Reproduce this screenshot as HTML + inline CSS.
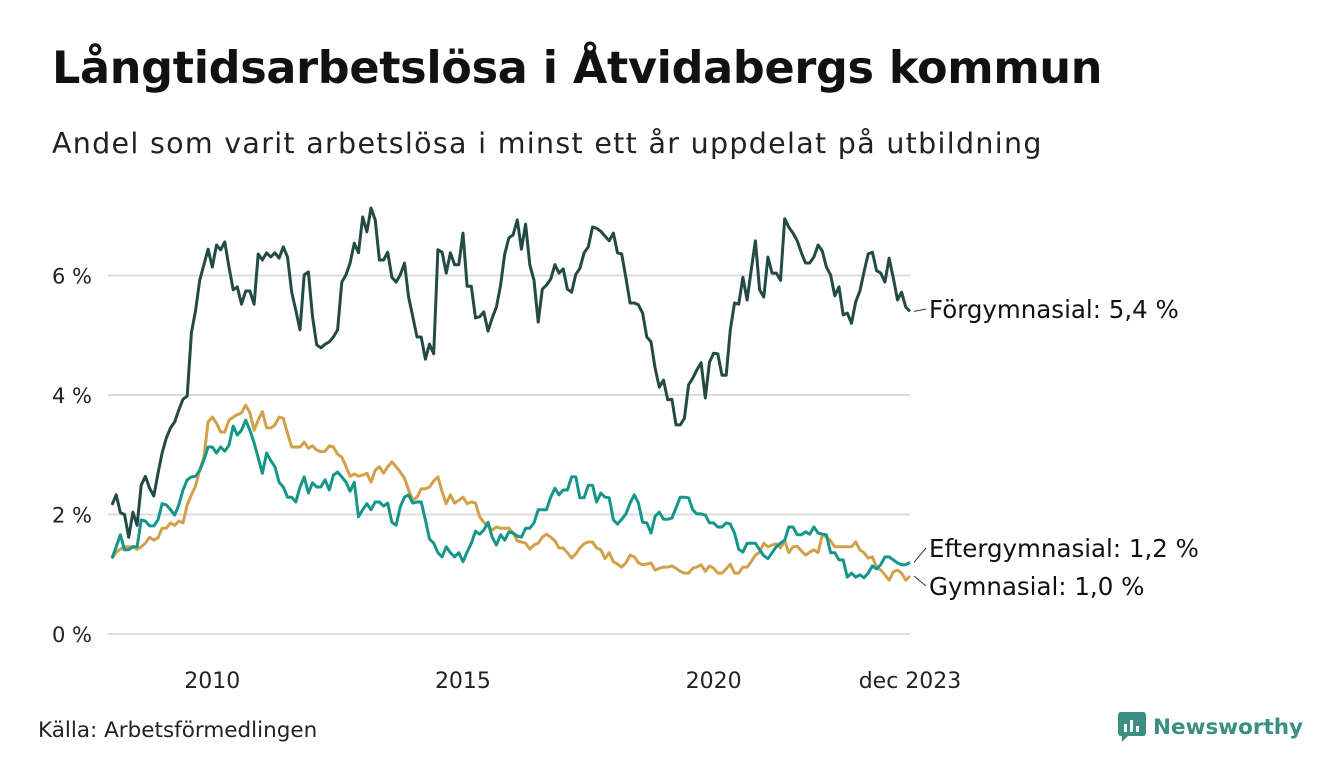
<!DOCTYPE html>
<html><head><meta charset="utf-8"><style>
body{margin:0;background:#fff;width:1340px;height:780px;overflow:hidden;font-family:"DejaVu Sans","Liberation Sans",sans-serif;color:#111}
#title{position:absolute;left:52px;top:43px;font-size:44.5px;font-weight:bold;margin:0;letter-spacing:-0.3px;white-space:nowrap}
#sub{position:absolute;left:52px;top:127px;font-size:28.5px;letter-spacing:1.3px;margin:0;color:#222;white-space:nowrap}
#src{position:absolute;left:38px;top:718px;font-size:21.5px;color:#222}
#logo{position:absolute;left:1118px;top:712px;display:flex;align-items:center;gap:7px;font-size:21.5px;font-weight:bold;color:#3a8f82}
</style></head><body>
<h1 id="title">Långtidsarbetslösa i Åtvidabergs kommun</h1>
<p id="sub">Andel som varit arbetslösa i minst ett år uppdelat på utbildning</p>
<svg id="chart" width="1340" height="780" style="position:absolute;left:0;top:0;font-family:'DejaVu Sans','Liberation Sans',sans-serif"></svg>
<div id="src">Källa: Arbetsförmedlingen</div>
<div id="logo">
<svg width="28" height="30"><rect x="0" y="0" width="28" height="24" rx="3" fill="#3a8f82"/><polygon points="4,24 10,24 4,30" fill="#3a8f82"/><rect x="6" y="12" width="3" height="8" fill="#fff"/><rect x="12" y="8" width="3" height="12" fill="#fff"/><rect x="18" y="14" width="3" height="6" fill="#fff"/></svg>
<span>Newsworthy</span></div>
<script>
const forgymnasial=[2.16,2.33,2.03,2.0,1.62,2.04,1.82,2.49,2.64,2.44,2.31,2.69,
3.03,3.28,3.45,3.55,3.75,3.93,3.98,5.04,5.42,5.92,6.18,6.44,6.14,6.51,6.43,6.56,6.14,5.76,5.81,5.52,5.74,5.74,5.52,6.36,6.26,6.38,6.31,6.38,6.29,6.48,6.31,5.72,5.42,5.09,6.01,6.06,5.31,4.84,4.79,4.85,4.89,4.97,5.09,5.89,6.01,6.21,6.54,6.38,6.98,6.73,7.13,6.93,6.26,
6.26,6.39,5.97,5.89,6.01,6.21,5.64,5.31,4.97,4.97,4.6,4.85,4.69,6.43,6.39,6.04,6.38,6.18,6.18,6.71,5.82,5.82,5.29,5.31,5.39,5.07,5.29,5.47,5.84,6.36,6.63,6.68,6.93,6.44,6.86,6.18,5.92,5.22,5.77,5.84,5.94,6.18,6.04,6.11,5.77,5.72,6.02,6.12,6.38,6.48,6.81,6.79,6.74,6.66,6.58,6.71,6.38,6.36,5.96,5.54,5.54,5.51,5.37,4.97,
4.89,4.45,4.13,4.25,3.92,3.93,3.5,3.5,3.61,4.17,4.28,4.42,4.54,3.95,4.55,4.7,4.69,4.33,4.33,5.09,5.54,5.52,5.97,5.59,6.09,6.58,5.76,5.64,6.31,6.04,6.04,5.92,6.95,6.81,6.71,6.58,6.38,6.21,6.21,6.31,6.51,6.41,6.14,6.01,5.66,5.81,5.34,5.37,5.2,5.56,5.74,6.06,6.36,6.39,6.08,6.04,5.89,6.29,5.96,5.59,5.72,5.47,5.4];
const eftergymnasial=[1.27,1.46,1.66,1.41,1.41,1.46,1.46,1.91,1.89,1.81,1.81,1.91,
2.18,2.16,2.08,1.99,2.16,2.41,2.58,2.63,2.64,2.74,2.91,3.13,3.13,3.03,3.13,3.06,3.16,3.48,3.33,3.41,3.58,3.41,3.2,2.95,2.69,3.03,2.9,2.8,2.54,2.46,2.29,2.29,2.21,2.46,2.63,2.36,2.53,2.46,2.46,2.58,2.41,2.66,2.71,2.63,2.54,2.39,2.54,1.96,2.08,2.18,2.08,2.21,
2.21,2.14,2.19,1.87,1.82,2.13,2.29,2.33,2.19,2.21,2.21,1.91,1.59,1.52,1.36,1.29,1.46,1.36,1.29,1.36,1.21,1.37,1.52,1.72,1.67,1.74,1.87,1.62,1.49,1.66,1.57,1.71,1.69,1.64,1.62,1.77,1.77,1.86,2.08,2.08,2.08,2.29,2.44,2.33,2.41,2.41,2.63,2.63,2.28,2.28,2.49,2.49,2.21,2.36,2.29,2.28,1.91,1.84,1.92,2.01,2.19,2.33,2.19,1.87,1.86,
1.69,1.97,2.04,1.92,1.92,1.94,2.11,2.29,2.29,2.28,2.08,2.01,2.01,1.99,1.86,1.86,1.79,1.79,1.86,1.84,1.69,1.42,1.37,1.52,1.52,1.52,1.41,1.31,1.26,1.36,1.46,1.52,1.57,1.79,1.79,1.66,1.66,1.71,1.67,1.79,1.69,1.67,1.66,1.36,1.36,1.24,1.24,0.95,1.02,0.95,0.99,0.94,1.02,1.14,1.09,1.16,1.29,1.29,1.24,1.19,1.16,1.16,1.2];
const gymnasial=[1.26,1.37,1.42,1.46,1.46,1.46,1.42,1.46,1.52,1.62,1.57,1.61,
1.77,1.77,1.86,1.82,1.89,1.86,2.16,2.33,2.48,2.74,2.96,3.55,3.63,3.53,3.38,3.38,3.58,3.63,3.67,3.7,3.83,3.7,3.41,3.58,3.72,3.45,3.45,3.5,3.63,3.61,3.36,3.13,3.13,3.13,3.21,3.11,3.15,3.08,3.05,3.06,3.15,3.13,3.01,2.96,2.8,2.64,2.68,2.64,2.66,2.69,2.54,2.74,2.8,
2.69,2.8,2.88,2.8,2.71,2.61,2.41,2.24,2.29,2.43,2.43,2.46,2.56,2.63,2.38,2.18,2.33,2.19,2.24,2.29,2.18,2.21,2.19,1.96,1.87,1.81,1.74,1.79,1.77,1.77,1.77,1.69,1.56,1.54,1.52,1.42,1.49,1.52,1.62,1.67,1.62,1.56,1.44,1.44,1.36,1.27,1.34,1.44,1.51,1.54,1.54,1.44,1.41,1.26,1.36,1.21,1.17,1.12,1.19,1.32,1.29,1.19,1.16,1.17,
1.19,1.07,1.1,1.12,1.12,1.14,1.1,1.05,1.02,1.02,1.1,1.12,1.16,1.05,1.14,1.1,1.02,1.02,1.09,1.17,1.02,1.02,1.12,1.12,1.21,1.32,1.37,1.52,1.46,1.49,1.51,1.44,1.56,1.36,1.46,1.47,1.39,1.32,1.37,1.41,1.36,1.66,1.62,1.56,1.46,1.46,1.46,1.46,1.46,1.54,1.41,1.36,1.27,1.29,1.12,1.07,0.99,0.9,1.04,1.07,1.02,0.9,0.97];
const yTicks=[0,2,4,6];
const yTickLabels=["0 %","2 %","4 %","6 %"];
const xTickYears=[2010,2015,2020,2023.917];
const xTickLabels=["2010","2015","2020","dec 2023"];
const startYear=2008;
const seriesNames=["Förgymnasial","Eftergymnasial","Gymnasial"];

const NS="http://www.w3.org/2000/svg";
const svg=document.getElementById('chart');
const x0=112,x1=910,yBase=634,pxPer=59.75;
const total=forgymnasial.length-1;
function xMonth(i){return x0+(x1-x0)*i/total;}
function xYear(y){return xMonth((y-startYear)*12);}
function yv(v){return yBase-v*pxPer;}
function mk(tag,attrs){const e=document.createElementNS(NS,tag);for(const k in attrs)e.setAttribute(k,attrs[k]);svg.appendChild(e);return e;}
yTicks.forEach((t,i)=>{
  const l=mk('line',{x1:108,x2:910,y1:yv(t),y2:yv(t),stroke:'#dcdce0','stroke-width':2});
  
  
  const tx=mk('text',{x:52,y:yv(t)+8,'font-size':21,fill:'#222'});
  tx.textContent=yTickLabels[i];
  
  
});
xTickYears.forEach((y,i)=>{
  const tx=mk('text',{x:xYear(y),y:688,'font-size':22,fill:'#222','text-anchor':'middle'});
  tx.textContent=xTickLabels[i];
  
  
});
function drawLine(arr,color,name){
  const d=arr.map((v,i)=>(i?'L':'M')+xMonth(i).toFixed(1)+','+yv(v).toFixed(1)).join('');
  const p=mk('path',{d:d,fill:'none',stroke:color,'stroke-width':3,'stroke-linejoin':'round'});
  
  
}
drawLine(gymnasial,'#d3a04a','gymnasial-line');
drawLine(eftergymnasial,'#15968a','eftergymnasial-line');
drawLine(forgymnasial,'#234a44','forgymnasial-line');
function fmt(v){return v.toFixed(1).replace('.',',')+' %';}
const last=arr=>arr[arr.length-1];
const labels=[[forgymnasial,318,seriesNames[0]],[eftergymnasial,557,seriesNames[1]],[gymnasial,595,seriesNames[2]]];
labels.forEach(([arr,ly,nm])=>{
  const ey=yv(last(arr));
  const c=mk('line',{x1:914,y1:ey,x2:926,y2:ly-9,stroke:'#333','stroke-width':1});
  
  
  const t=mk('text',{x:929,y:ly,'font-size':24.5,fill:'#111'});
  t.textContent=nm+': '+fmt(last(arr));
  
  
});
</script>
</body></html>
